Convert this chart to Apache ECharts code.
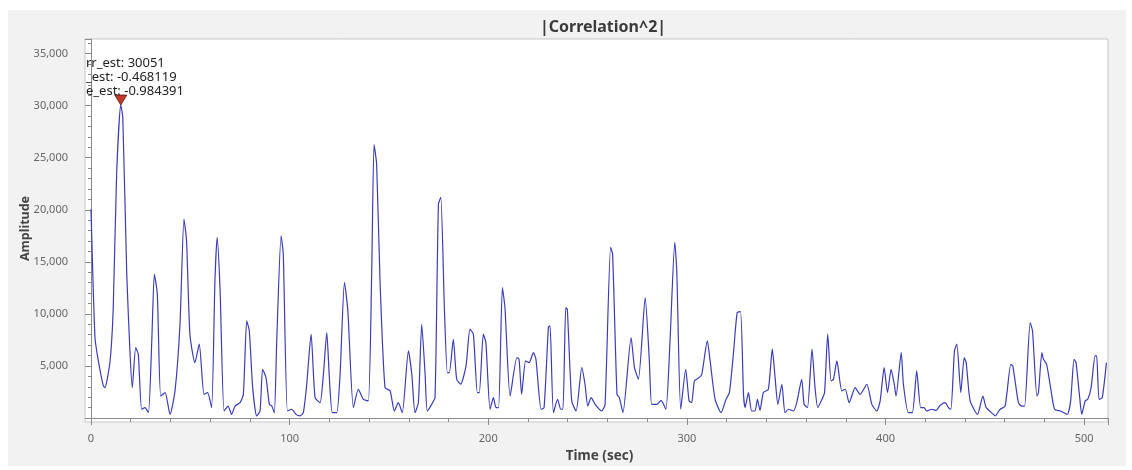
<!DOCTYPE html>
<html>
<head>
<meta charset="utf-8">
<script src="https://cdn.jsdelivr.net/npm/echarts@6/dist/echarts.min.js"></script>
<style>
  html, body { margin: 0; padding: 0; background: #ffffff; }
  #canvas { width: 1132px; height: 470px; }
</style>
</head>
<body>
<div id="canvas"></div>
<script>
// |Correlation^2| trace
var timeSec = [0, 2, 3.7, 6.2, 7, 9.6, 11.2, 12.9, 15, 16, 18, 19.6, 20.8, 22.5, 23.8, 25.5, 27.2, 28.9, 30.6, 31.9,
  33.4, 35.1, 37.3, 39.8, 42.3, 44.8, 46.8, 48.1, 49.8, 52.3, 54.5, 56.9, 58.7, 60.7, 62.4, 63.5, 65, 67, 69, 70.8,
  72.5, 75, 76.7, 78.4, 79.7, 81.4, 83.4, 85.1, 86.4, 88.1, 89.8, 91, 92.3, 93.5, 95.7, 96.8, 98.9, 101, 103.2, 105.2,
  106.9, 108.6, 110.8, 112.8, 115.3, 117, 118.7, 120, 121.5, 123.7, 125.4, 127.6, 129.3, 132.1, 134.6, 137.1, 139.6, 141.3, 142.5, 143.8,
  145.5, 148, 150.6, 152.7, 154.7, 156.7, 159.8, 161.5, 163.1, 164.8, 166.5, 168.2, 169.3, 171.5, 173.2, 174.9, 176.1, 177.9, 179.4, 180.4,
  182.4, 184.1, 186.1, 188.8, 190.8, 192.5, 194.5, 195.5, 197.5, 198.8, 200.9, 202.6, 203.9, 205.2, 207.1, 208.4, 211, 214.4, 215.5, 216.8,
  218.8, 220.6, 222.7, 224, 226.6, 228.1, 230.3, 231.1, 232.8, 234.9, 236.5, 237.6, 239, 239.8, 242, 244.2, 247.1, 248.7, 250.1, 251.8,
  253.8, 257.1, 258.8, 261.6, 262.6, 264.8, 266, 267.8, 271.9, 273.6, 275.6, 279, 281.1, 282.3, 284.8, 287, 289.4, 291.5, 293.9, 294.9,
  296.9, 299.4, 301.1, 302.4, 303.8, 306.1, 307.5, 310.3, 311.7, 314.2, 317.2, 319.7, 321.4, 323.4, 325.3, 327, 328.5, 329.3, 331, 332.6,
  334.3, 335.5, 336.8, 338.5, 341, 343, 344.4, 345.8, 347.8, 349.4, 351.1, 353.6, 355.3, 357.8, 359, 360.7, 363, 364.5, 365.9, 368,
  369.3, 370.9, 372.6, 373.8, 375.5, 378, 379.7, 381.7, 384.7, 387.2, 390.6, 393.1, 395.6, 397.3, 399.3, 401, 402.8, 404.4, 405.3, 407.9,
  409, 411.5, 413.5, 415.7, 417.7, 419.4, 420.7, 423.2, 425.5, 427.2, 430, 431.7, 432.9, 434.7, 435.9, 437.9, 439.6, 440.6, 442.6, 446.3,
  449, 450.7, 454.3, 455.2, 457.7, 460.2, 463.1, 464.1, 466.9, 468.6, 470, 472.8, 474, 476.2, 477, 478.7, 479.5, 481.1, 483.1, 485.1,
  488.1, 491.5, 493.2, 494.9, 495.9, 497.6, 498.8, 500.5, 501.8, 503.5, 505.5, 506.3, 507.5, 509.1, 511.2];

var amplitude = [20060, 7730, 5480, 3080, 2920, 5480, 10610, 23430, 30051, 28880, 13820, 6440, 2920, 6760, 6130, 840, 1000, 510, 7400, 13820,
  11890, 2110, 2440, 350, 2600, 9000, 19100, 17020, 8050, 5320, 7090, 2270, 2440, 1000, 13180, 17340, 12210, 670, 1150, 350,
  1150, 1470, 2270, 9330, 8360, 2920, 200, 670, 4680, 3880, 1310, 1150, 510, 7400, 17500, 15740, 670, 840, 350, 200,
  510, 3240, 8050, 1960, 1470, 4200, 8200, 3880, 510, 510, 4200, 13020, 10330, 1000, 2760, 1790, 1640, 13820, 26250, 24390,
  13170, 2920, 2600, 670, 1470, 510, 6440, 4200, 510, 1470, 9000, 4200, 670, 1310, 1960, 20540, 21180, 10610, 4360, 4360,
  7560, 3720, 3240, 5000, 8530, 8050, 2440, 2440, 8050, 7240, 840, 1960, 1000, 1000, 12530, 10610, 2110, 5810, 5640, 2270,
  5480, 5320, 6280, 5640, 840, 1000, 8750, 8850, 510, 1790, 840, 840, 10610, 10450, 1640, 670, 4840, 3240, 1150, 1960,
  1310, 670, 1310, 16380, 15740, 2270, 1960, 510, 7730, 4840, 3720, 11570, 5480, 1310, 1310, 1700, 840, 7400, 16860, 14140,
  840, 4680, 1640, 1470, 3560, 3880, 4200, 7400, 5480, 1790, 510, 1790, 2440, 6130, 10120, 10220, 2270, 1000, 2440, 670,
  670, 1790, 730, 2440, 2760, 6610, 3880, 1310, 3240, 510, 840, 670, 1470, 3720, 1310, 1000, 6610, 2920, 1000, 1790,
  2440, 8050, 3560, 3720, 5480, 2600, 2760, 1470, 2920, 2270, 3240, 1310, 670, 1640, 4840, 2440, 4680, 3240, 2110, 6280,
  3240, 510, 510, 4520, 1000, 1000, 670, 840, 730, 1150, 1470, 1000, 840, 6440, 7090, 2440, 5810, 5320, 1640, 350,
  2110, 1000, 350, 200, 840, 1150, 5160, 4990, 1470, 1150, 1150, 9170, 8360, 2110, 2440, 6280, 5640, 5160, 2920, 840,
  670, 350, 1640, 5640, 5320, 2270, 350, 1640, 1790, 2920, 5960, 5960, 1790, 1960, 5320];

var peakTime = 15;
var peakValue = 30051;
var peakText = ['rr_est: 30051', '_est: -0.468119', 'e_est: -0.984391'];

var points = [];
for (var i = 0; i < timeSec.length; i++) {
  points.push([timeSec[i], amplitude[i]]);
}

var FONT = '"Noto Sans", "DejaVu Sans", sans-serif';
var myChart = echarts.init(document.getElementById('canvas'));

var option = {
  backgroundColor: '#ffffff',
  animation: false,
  title: {
    text: '|Correlation^2|',
    left: 598,
    top: 14,
    textAlign: 'center',
    textStyle: { fontFamily: FONT, fontSize: 16, fontWeight: 'bold', color: '#3a3a3a' }
  },
  graphic: [
    { type: 'rect', z: -10, silent: true, shape: { x: 8, y: 10, width: 1118, height: 456 },
      style: { fill: '#f2f2f2' } },
    { type: 'rect', z: -9, silent: true, shape: { x: 85, y: 39, width: 1023, height: 383 },
      style: { fill: '#ffffff', stroke: '#c8c8c8', lineWidth: 1 } },
    { type: 'text', z: 10, left: 86, top: 57, silent: true,
      style: { text: peakText[0], fontFamily: FONT, fontSize: 13, fill: '#222' } },
    { type: 'text', z: 10, left: 86, top: 71, silent: true,
      style: { text: peakText[1], fontFamily: FONT, fontSize: 13, fill: '#222' } },
    { type: 'text', z: 10, left: 86, top: 85, silent: true,
      style: { text: peakText[2], fontFamily: FONT, fontSize: 13, fill: '#222' } }
  ],
  grid: { left: 91, right: 24, top: 39, bottom: 52, containLabel: false },
  xAxis: {
    type: 'value',
    min: 0,
    max: 512,
    interval: 100,
    offset: 6,
    name: 'Time (sec)',
    nameLocation: 'middle',
    nameGap: 25,
    nameTextStyle: { fontFamily: FONT, fontSize: 13.5, fontWeight: 'bold', color: '#444' },
    axisLine: { show: true, lineStyle: { color: '#8a8a8a' } },
    axisTick: { show: true, length: 7, lineStyle: { color: '#8a8a8a' } },
    minorTick: { show: true, splitNumber: 5, length: 4, lineStyle: { color: '#8a8a8a' } },
    axisLabel: { showMaxLabel: false, margin: 9, fontFamily: FONT, fontSize: 11, color: '#666' },
    splitLine: { show: false }
  },
  yAxis: {
    type: 'value',
    min: 0,
    max: 36400,
    interval: 5000,
    offset: 11,
    name: 'Amplitude',
    nameLocation: 'middle',
    nameGap: 48,
    nameMoveOverlap: false,
    nameTextStyle: { fontFamily: FONT, fontSize: 12.5, fontWeight: 'bold', color: '#444' },
    axisLine: { show: true, lineStyle: { color: '#8a8a8a' } },
    axisTick: { show: true, length: 6, lineStyle: { color: '#8a8a8a' } },
    minorTick: { show: true, splitNumber: 5, length: 3, lineStyle: { color: '#8a8a8a' } },
    axisLabel: {
      showMinLabel: false,
      showMaxLabel: false,
      margin: 12,
      fontFamily: FONT,
      fontSize: 11,
      color: '#666',
      formatter: function (v) { return v === 0 ? '' : v.toLocaleString('en-US'); }
    },
    splitLine: { show: false }
  },
  series: [
    {
      type: 'line',
      data: points,
      showSymbol: false,
      smooth: 0.2,
      lineStyle: { color: '#3b3bb8', width: 1.2 },
      markPoint: {
        symbol: 'triangle',
        symbolSize: [12, 10],
        symbolRotate: 180,
        symbolOffset: [0, -5],
        itemStyle: { color: '#c0392b', borderColor: '#5a1a14', borderWidth: 0.8 },
        label: { show: false },
        data: [{ coord: [peakTime, peakValue] }]
      }
    }
  ]
};
myChart.setOption(option);
window.onresize = myChart.resize;
</script>
</body>
</html>
